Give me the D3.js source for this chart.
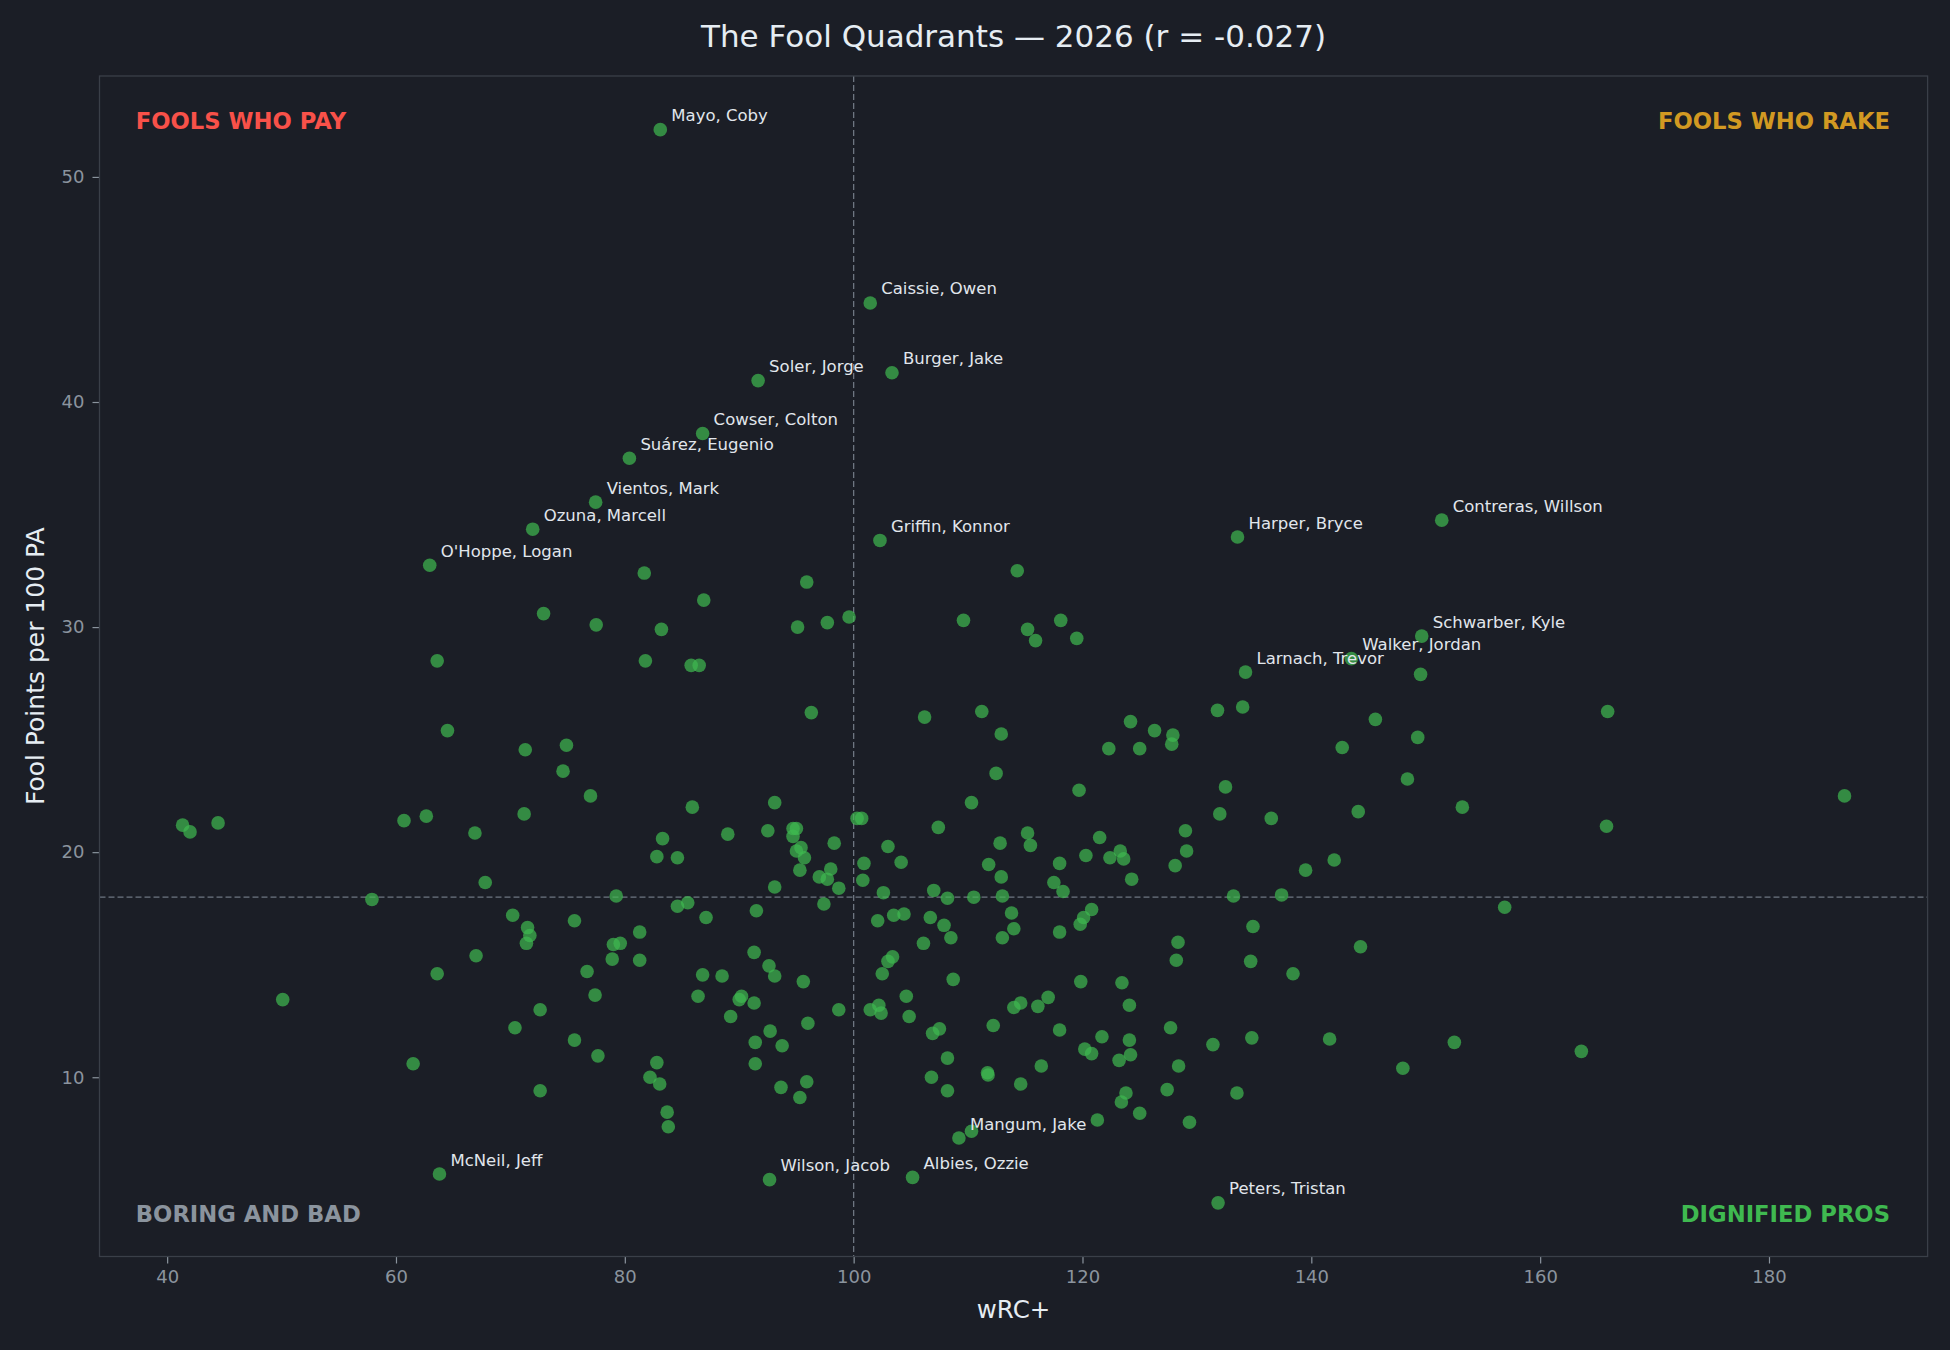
<!DOCTYPE html>
<html>
<head>
<meta charset="utf-8">
<script src="https://cdn.jsdelivr.net/npm/d3@7"></script>
<style>
html,body{margin:0;padding:0;background:#1b1e26;}
svg{display:block;}
</style>
</head>
<body>
<svg id="chart" width="1950" height="1350"></svg>
<script>
// ---------- DATA ----------
const wrcPlus = [
  81.7, 86.9, 72.9, 77.5, 83.2, 63.6, 81.8, 85.8, 86.5, 114.3,
  95.9, 95.1, 97.7, 99.6, 109.6, 115.2, 115.9, 118.1, 119.5, 64.5,
  71.3, 74.9, 74.6, 77.0, 85.9, 71.2, 41.35, 42.0, 44.45, 60.7,
  62.65, 66.9, 83.3, 82.8, 84.6, 67.8, 57.9, 79.25, 85.5, 84.6,
  87.1, 70.2, 71.5, 71.7, 71.4, 75.6, 81.3, 79.0, 79.6, 67.0,
  78.9, 81.3, 76.7, 86.8, 63.6, 50.1, 77.4, 86.4, 72.6, 70.4,
  75.6, 77.65, 61.5, 82.8, 82.2, 83.05, 72.6, 83.7, 83.8, 96.3,
  106.2, 111.2, 112.9, 131.8, 134.0, 124.2, 126.3, 127.9, 127.8, 122.3,
  125.0, 112.45, 119.7, 132.5, 110.3, 132.0, 136.5, 93.1, 100.3, 100.7,
  89.0, 92.5, 94.7, 95.0, 94.7, 95.4, 95.0, 95.7, 98.3, 95.3,
  97.0, 98.0, 97.7, 98.7, 93.1, 91.5, 97.4, 100.9, 100.8, 103.0,
  104.15, 102.6, 107.4, 111.8, 112.8, 112.9, 107.0, 108.2, 110.5, 113.0,
  115.2, 115.45, 118.0, 117.5, 118.3, 120.3, 121.5, 123.3, 122.4, 123.6,
  124.3, 129.0, 129.1, 128.1, 133.2, 137.4, 139.5, 134.9, 128.35, 128.2,
  134.7, 102.1, 103.5, 104.4, 106.7, 107.9, 108.5, 113.8, 114.0, 113.0,
  120.8, 120.1, 119.8, 118.0, 106.1, 91.3, 92.6, 103.4, 103.0, 88.5,
  93.1, 95.6, 90.2, 90.0, 91.3, 89.25, 92.7, 96.0, 91.4, 93.75,
  91.4, 93.65, 95.9, 95.3, 98.7, 102.5, 101.45, 102.2, 102.4, 104.6,
  104.85, 108.7, 106.9, 107.5, 108.2, 106.8, 108.2, 111.7, 111.75, 112.2,
  114.0, 114.6, 116.1, 117.0, 116.4, 114.6, 118.0, 119.85, 123.45, 124.1,
  120.2, 120.8, 121.7, 124.1, 123.2, 124.2, 127.7, 128.4, 131.4, 134.8,
  127.4, 123.8, 123.4, 125.0, 121.3, 129.35, 133.5, 138.4, 110.3, 149.55,
  165.9, 145.6, 142.7, 149.3, 148.4, 186.6, 144.1, 153.2, 165.8, 142.0,
  156.9, 144.3, 141.6, 148.0, 152.5, 163.6
];
const foolPts = [
  32.4, 31.2, 30.6, 30.1, 29.9, 28.5, 28.5, 28.3, 28.3, 32.5,
  32.0, 30.0, 30.2, 30.45, 30.3, 29.9, 29.4, 30.3, 29.5, 25.4,
  24.55, 24.75, 23.6, 22.5, 22.0, 21.7, 21.2, 20.9, 21.3, 21.4,
  21.6, 20.85, 20.6, 19.8, 19.75, 18.65, 17.9, 18.05, 17.75, 17.6,
  17.1, 17.2, 16.65, 16.3, 15.95, 16.95, 16.45, 15.9, 15.95, 15.4,
  15.25, 15.2, 14.7, 14.55, 14.6, 13.45, 13.65, 13.6, 13.0, 12.2,
  11.65, 10.95, 10.6, 10.65, 10.0, 9.7, 9.4, 8.45, 7.8, 26.2,
  26.0, 26.25, 25.25, 26.3, 26.45, 25.8, 25.4, 25.2, 24.8, 24.6,
  24.6, 23.5, 22.75, 22.9, 22.2, 21.7, 21.5, 22.2, 21.5, 21.5,
  20.8, 20.95, 21.05, 21.05, 20.7, 20.2, 20.05, 19.75, 20.4, 19.2,
  18.9, 19.25, 18.8, 18.4, 18.45, 17.4, 17.7, 19.5, 18.75, 20.25,
  19.55, 18.2, 21.1, 19.45, 20.4, 18.9, 18.3, 17.95, 18.0, 18.05,
  20.85, 20.3, 19.5, 18.65, 18.25, 19.85, 20.65, 20.05, 19.75, 19.7,
  18.8, 20.95, 20.05, 19.4, 18.05, 18.1, 19.2, 16.7, 16.0, 15.2,
  15.15, 16.95, 17.2, 17.25, 17.1, 16.75, 16.2, 17.3, 16.6, 16.2,
  17.45, 17.1, 16.8, 16.45, 15.95, 15.55, 14.95, 15.35, 15.15, 14.5,
  14.5, 14.25, 13.6, 13.45, 13.3, 12.7, 12.05, 12.4, 11.55, 11.4,
  10.6, 9.55, 9.8, 9.1, 13.0, 14.6, 13.0, 13.2, 12.85, 13.6,
  12.7, 14.35, 11.95, 12.15, 10.85, 10.0, 9.4, 10.2, 10.1, 12.3,
  13.1, 13.3, 13.15, 13.55, 10.5, 9.7, 12.1, 14.25, 14.2, 13.2,
  11.25, 11.05, 11.8, 11.65, 10.75, 11.0, 12.2, 10.5, 11.45, 11.75,
  9.45, 9.3, 8.9, 8.4, 8.1, 8.0, 9.3, 14.6, 7.6, 27.9,
  26.25, 25.9, 24.65, 25.1, 23.25, 22.5, 21.8, 22.0, 21.15, 19.65,
  17.55, 15.8, 11.7, 10.4, 11.55, 11.15
];
const labeledNames = [
  "Mayo, Coby", "Caissie, Owen", "Burger, Jake", "Soler, Jorge", "Cowser, Colton",
  "Suárez, Eugenio", "Vientos, Mark", "Ozuna, Marcell", "O'Hoppe, Logan", "Griffin, Konnor",
  "Harper, Bryce", "Contreras, Willson", "Schwarber, Kyle", "Walker, Jordan", "Larnach, Trevor",
  "McNeil, Jeff", "Wilson, Jacob", "Albies, Ozzie", "Mangum, Jake", "Peters, Tristan"
];
const labeledWrc = [
  83.1, 101.45, 103.35, 91.65, 86.8,
  80.4, 77.45, 71.95, 62.95, 102.3,
  133.55, 151.4, 149.65, 143.5, 134.25,
  63.8, 92.65, 105.15, 109.2, 131.85
];
const labeledFool = [
  52.1, 44.4, 41.3, 40.95, 38.6,
  37.5, 35.55, 34.35, 32.75, 33.85,
  34.0, 34.75, 29.6, 28.6, 28.0,
  5.7, 5.45, 5.55, 7.3, 4.42
];
const xTicks = [40, 60, 80, 100, 120, 140, 160, 180];
const yTicks = [10, 20, 30, 40, 50];
const medianWrc = 100.0;
const medianFool = 18.0;
const chartTitle = "The Fool Quadrants \u2014 2026 (r = -0.027)";
const xLabel = "wRC+";
const yLabel = "Fool Points per 100 PA";
const quadrantNames = ["FOOLS WHO PAY", "FOOLS WHO RAKE", "BORING AND BAD", "DIGNIFIED PROS"];
const quadrantColors = ["#f85149", "#d29922", "#8b949e", "#3fb950"];

// ---------- CHART ----------
const W = 1950, H = 1350;
const FONT = "'DejaVu Sans', Verdana, sans-serif";
const box = {left: 99.5, right: 1927.6, top: 76, bottom: 1256.5};
const svg = d3.select("#chart");
svg.append("rect").attr("width", W).attr("height", H).attr("fill", "#1b1e26");

const allX = wrcPlus.concat(labeledWrc);
const allY = foolPts.concat(labeledFool);
const [xMin, xMax] = d3.extent(allX);
const [yMin, yMax] = d3.extent(allY);
const padX = (xMax - xMin) * 0.05, padY = (yMax - yMin) * 0.05;
const x = d3.scaleLinear().domain([xMin - padX, xMax + padX]).range([box.left, box.right]);
const y = d3.scaleLinear().domain([yMin - padY, yMax + padY]).range([box.bottom, box.top]);

// axes
const xAxis = svg.append("g")
  .attr("transform", `translate(0,${box.bottom})`)
  .call(d3.axisBottom(x).tickValues(xTicks).tickSize(7).tickPadding(7).tickFormat(d3.format("d")));
const yAxis = svg.append("g")
  .attr("transform", `translate(${box.left},0)`)
  .call(d3.axisLeft(y).tickValues(yTicks).tickSize(7).tickPadding(8).tickFormat(d3.format("d")));
[xAxis, yAxis].forEach(a => {
  a.select(".domain").remove();
  a.selectAll(".tick line").attr("stroke", "#8b949e").attr("stroke-width", 1.2);
  a.selectAll(".tick text").attr("fill", "#8b949e")
    .style("font-family", FONT).style("font-size", "18px");
});

// median lines
svg.append("line")
  .attr("x1", x(medianWrc)).attr("x2", x(medianWrc))
  .attr("y1", box.top).attr("y2", box.bottom)
  .attr("stroke", "#6e7681").attr("stroke-width", 1.3).attr("stroke-dasharray", "6,3");
svg.append("line")
  .attr("x1", box.left).attr("x2", box.right)
  .attr("y1", y(medianFool)).attr("y2", y(medianFool))
  .attr("stroke", "#6e7681").attr("stroke-width", 1.3).attr("stroke-dasharray", "6,3");

// points
const pts = wrcPlus.map((v, i) => ({x: v, y: foolPts[i]}))
  .concat(labeledWrc.map((v, i) => ({x: v, y: labeledFool[i]})));
svg.append("g").selectAll("circle").data(pts).join("circle")
  .attr("cx", d => x(d.x)).attr("cy", d => y(d.y)).attr("r", 6.8)
  .attr("fill", "#3fb950").attr("fill-opacity", 0.7);

// point labels
svg.append("g").selectAll("text").data(labeledNames).join("text")
  .attr("x", (d, i) => x(labeledWrc[i]) + 11)
  .attr("y", (d, i) => y(labeledFool[i]) - 8.5)
  .attr("fill", "#e1e6ec")
  .style("font-family", FONT).style("font-size", "16.5px")
  .text(d => d);

// spines
svg.append("rect")
  .attr("x", box.left).attr("y", box.top)
  .attr("width", box.right - box.left).attr("height", box.bottom - box.top)
  .attr("fill", "none").attr("stroke", "#3a3f48").attr("stroke-width", 1.3);

// quadrant labels
const qPos = [
  {x: box.left + 36.3, y: 129.3, anchor: "start"},
  {x: box.right - 37.6, y: 129.3, anchor: "end"},
  {x: box.left + 36.3, y: 1221.7, anchor: "start"},
  {x: box.right - 37.6, y: 1221.7, anchor: "end"}
];
svg.append("g").selectAll("text").data(quadrantNames).join("text")
  .attr("x", (d, i) => qPos[i].x).attr("y", (d, i) => qPos[i].y)
  .attr("text-anchor", (d, i) => qPos[i].anchor)
  .attr("fill", (d, i) => quadrantColors[i])
  .style("font-family", FONT).style("font-size", "22.7px").style("font-weight", "bold")
  .text(d => d);

// title & axis labels
svg.append("text")
  .attr("x", (box.left + box.right) / 2).attr("y", 47)
  .attr("text-anchor", "middle").attr("fill", "#e6edf3")
  .style("font-family", FONT).style("font-size", "31px")
  .text(chartTitle);
svg.append("text")
  .attr("x", (box.left + box.right) / 2).attr("y", 1318)
  .attr("text-anchor", "middle").attr("fill", "#e6edf3")
  .style("font-family", FONT).style("font-size", "24.5px")
  .text(xLabel);
svg.append("text")
  .attr("transform", `translate(44,${(box.top + box.bottom) / 2}) rotate(-90)`)
  .attr("text-anchor", "middle").attr("fill", "#e6edf3")
  .style("font-family", FONT).style("font-size", "25px")
  .text(yLabel);
</script>
</body>
</html>
